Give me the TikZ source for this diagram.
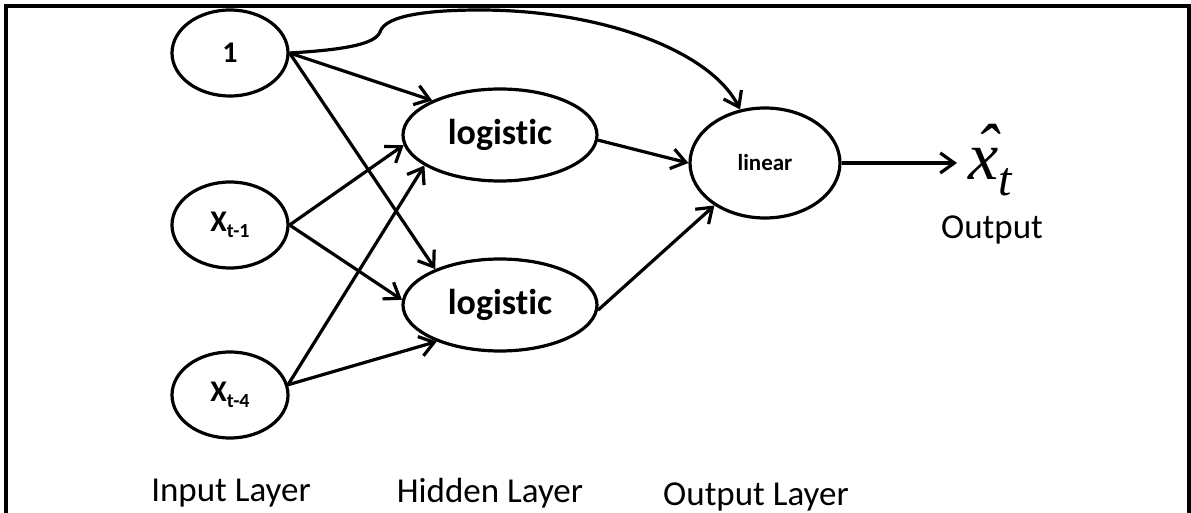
\documentclass[tikz,border=0pt]{standalone}
\usepackage{fontspec}
\setmainfont[Ligatures=NoCommon]{Carlito}
\newfontfamily\eqfont{Liberation Serif}
\usetikzlibrary{positioning,arrows.meta,shapes.geometric}
\newcommand{\lowsub}[1]{\raisebox{-0.45ex}{\fontsize{10}{12}\selectfont #1}}

\begin{document}
\begin{tikzpicture}[
  x=0.5pt, y=-0.5pt,
  every node/.style={font=\fontsize{17.5}{20}\selectfont},
  unit/.style={draw=black, ellipse, line width=1.6pt, inner sep=0pt, align=center},
  inbox/.style={unit, minimum width=58pt, minimum height=43pt, font=\bfseries\fontsize{15}{17}\selectfont},
  hidbox/.style={unit, minimum width=97pt, minimum height=46pt, font=\bfseries\fontsize{18}{20}\selectfont},
  outbox/.style={unit, minimum width=75pt, minimum height=55pt, font=\bfseries\fontsize{11.5}{13}\selectfont},
  arr/.style={-{Straight Barb[length=7pt, width=10pt, line width=1.6pt]}, line width=1.6pt, draw=black}
]
\useasboundingbox (0,0) rectangle (1191,513);
% Frame
\draw[line width=1.6pt] (6,513) -- (6,6) -- (1189,6) -- (1189,513);

% Input layer
\node[inbox] (one) at (230,53) {1};
\node[inbox] (xa) at (230,225) {X\lowsub{t-1}};
\node[inbox] (xb) at (230,395) {X\lowsub{t-4}};

% Hidden layer
\node[hidbox] (ha) at (500,135) {logistic};
\node[hidbox] (hb) at (500,305) {logistic};

% Output layer
\node[outbox] (lin) at (765,163) {linear};
\node[inner sep=1pt, anchor=base west, font=\eqfont\itshape\fontsize{34}{36}\selectfont] (xhat) at (966,180)
  {\rlap{\hspace{0.1em}\raisebox{0.12em}{\char"02C6}}x\raisebox{-8pt}{\fontsize{24}{26}\selectfont t}};
\node (out) at (992,230) {Output};

% Layer names
\node (lin1) at (231,493) {Input Layer};
\node (lin2) at (490,493) {Hidden Layer};
\node (lin3) at (756,497) {Output Layer};

% Connections
\draw[arr] (one.east) -- (ha.153);
\draw[arr] (one.east) -- (hb.151);
\draw[arr] (xa.east) -- (ha.186);
\draw[arr] (xa.east) -- (hb.177);
\draw[arr] (xb.10) -- (ha.202);
\draw[arr] (xb.10) -- (hb.210);
\draw[arr] (ha.-3) -- (lin.west);
\draw[arr] (hb.-3) -- (lin.220);
\draw[arr] (one.east) .. controls (340,50) and (375,45) .. (380,32)
  .. controls (385,15) and (430,10) .. (480,10)
  .. controls (600,10) and (710,50) .. (lin.115);
\draw[arr] (lin.east) -- ([xshift=-4.5pt]lin.east -| xhat.west);
\end{tikzpicture}
\end{document}
